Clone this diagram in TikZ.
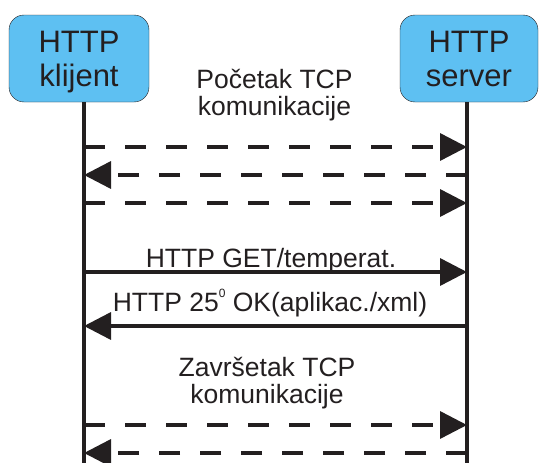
\documentclass[tikz,border=0pt]{standalone}
\usepackage{fontspec}
\setmainfont{Liberation Sans}
\usetikzlibrary{arrows.meta, positioning}
\definecolor{boxblue}{RGB}{94,192,242}
\definecolor{inkblack}{RGB}{35,31,32}
\tikzset{
party/.style={draw=inkblack, fill=boxblue, rounded corners=15pt, minimum width=140pt, minimum height=87pt, align=center, text=inkblack, text depth=0pt, font=\fontsize{31}{34}\selectfont}, % the two boxes on top
lifeline/.style={draw=inkblack, line width=3.5pt}, % vertical time lines
msg/.style={draw=inkblack, line width=3.5pt, -{Triangle[length=27pt,width=27pt]}}, % plain message
tcp/.style={msg, dash pattern=on 21pt off 20pt}, % dashed TCP handshake message
note/.style={inner sep=0pt, text=inkblack, align=center, font=\fontsize{26.5}{27}\selectfont}, % text above the messages
}
\newcommand{\tinyzero}{\raisebox{0.5em}{\fontsize{12}{12}\selectfont 0}}

\begin{document}
\begin{tikzpicture}[x=1pt, y=-1pt]
    \useasboundingbox (0,0) rectangle (539,463);
    \node[party] (cl) at (79,58.5) {HTTP\\klijent};
    \node[party, minimum width=138pt] (sv) at (469,58.5) {HTTP\\server};
    \coordinate (cltop) at (84,102);
    \coordinate (clbot) at (84,463);
    \coordinate (svtop) at (467,102);
    \coordinate (svbot) at (467,463);
    \foreach \n/\y in {1/147, 2/175, 3/203, 4/272, 5/326, 6/425, 7/453}{
        \coordinate (c\n) at (84,\y);
        \coordinate (s\n) at (467,\y);
    }
    \draw[lifeline] (cltop) -- (clbot);
    \draw[lifeline] (svtop) -- (svbot);
    % base of a two line note is its last line
    \node[note, anchor=base] (start) at (274.5,115) {Početak TCP\\komunikacije};
    \node[note, anchor=base] (get) at (271,267) {HTTP GET/temperat.};
    \node[note, anchor=base] (ok) at (270,311) {HTTP 25\tinyzero{} OK(aplikac./xml)};
    \node[note, anchor=base] (end) at (267,403) {Završetak TCP\\komunikacije};
    \draw[tcp] (c1) -- (s1);
    \draw[tcp] (s2) -- (c2);
    \draw[tcp] (c3) -- (s3);
    \draw[msg] (c4) -- (s4);
    \draw[msg] (s5) -- (c5);
    \draw[tcp] (c6) -- (s6);
    \draw[tcp] (s7) -- (c7);
\end{tikzpicture}
\end{document}
